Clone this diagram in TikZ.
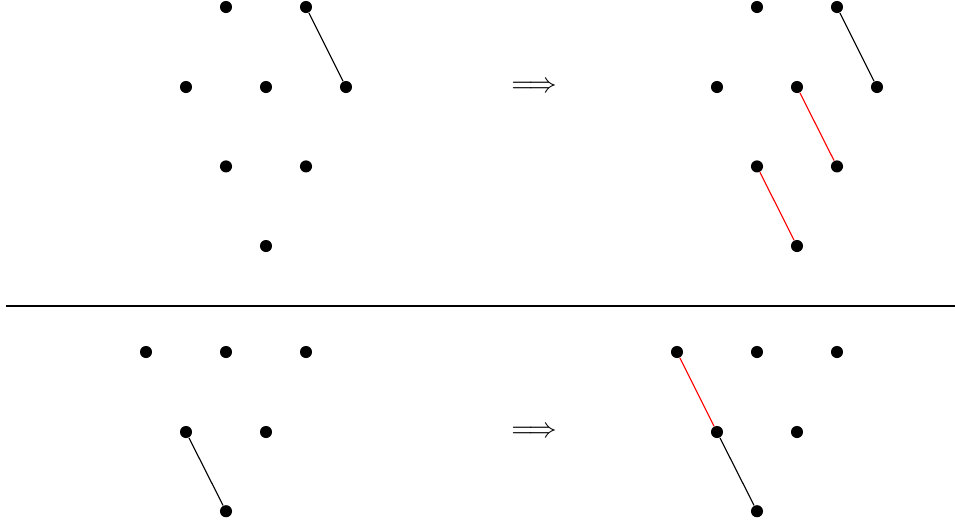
\documentclass[tikz,border=0pt]{standalone}
\begin{document}
\begin{tikzpicture}[x=1cm,y=1cm,
  dot/.style={circle,fill=black,inner sep=0pt,minimum size=4.3pt},
  edge/.style={draw=black,line width=0.4pt},
  redge/.style={draw=red,line width=0.4pt}]
\useasboundingbox (0,0) rectangle (11.9375,-6.5375);
% top-left
\node[dot] (a1) at (2.825,-0.0875) {};
\node[dot] (a2) at (3.825,-0.0875) {};
\node[dot] (a3) at (2.325,-1.0875) {};
\node[dot] (a4) at (3.325,-1.0875) {};
\node[dot] (a5) at (4.325,-1.0875) {};
\node[dot] (a6) at (2.825,-2.08) {};
\node[dot] (a7) at (3.825,-2.08) {};
\node[dot] (a8) at (3.325,-3.075) {};
\draw[edge] (a2) -- (a5);
\node (arr1) at (6.675,-1.0875) {$\Longrightarrow$};
% top-right
\node[dot] (b1) at (9.4625,-0.0875) {};
\node[dot] (b2) at (10.4625,-0.0875) {};
\node[dot] (b3) at (8.9625,-1.0875) {};
\node[dot] (b4) at (9.9625,-1.0875) {};
\node[dot] (b5) at (10.9625,-1.0875) {};
\node[dot] (b6) at (9.4625,-2.08) {};
\node[dot] (b7) at (10.4625,-2.08) {};
\node[dot] (b8) at (9.9625,-3.075) {};
\draw[edge] (b2) -- (b5);
\draw[redge] (b4) -- (b7);
\draw[redge] (b6) -- (b8);
% separator
\coordinate (s1) at (0.075,-3.825);
\coordinate (s2) at (11.9375,-3.825);
\draw[edge] (s1) -- (s2);
% bottom-left
\node[dot] (c1) at (1.825,-4.4) {};
\node[dot] (c2) at (2.825,-4.4) {};
\node[dot] (c3) at (3.825,-4.4) {};
\node[dot] (c4) at (2.325,-5.4) {};
\node[dot] (c5) at (3.325,-5.4) {};
\node[dot] (c6) at (2.825,-6.39) {};
\draw[edge] (c4) -- (c6);
\node (arr2) at (6.675,-5.4) {$\Longrightarrow$};
% bottom-right
\node[dot] (d1) at (8.4625,-4.4) {};
\node[dot] (d2) at (9.4625,-4.4) {};
\node[dot] (d3) at (10.4625,-4.4) {};
\node[dot] (d4) at (8.9625,-5.4) {};
\node[dot] (d5) at (9.9625,-5.4) {};
\node[dot] (d6) at (9.4625,-6.39) {};
\draw[redge] (d1) -- (d4);
\draw[edge] (d4) -- (d6);
\end{tikzpicture}
\end{document}
